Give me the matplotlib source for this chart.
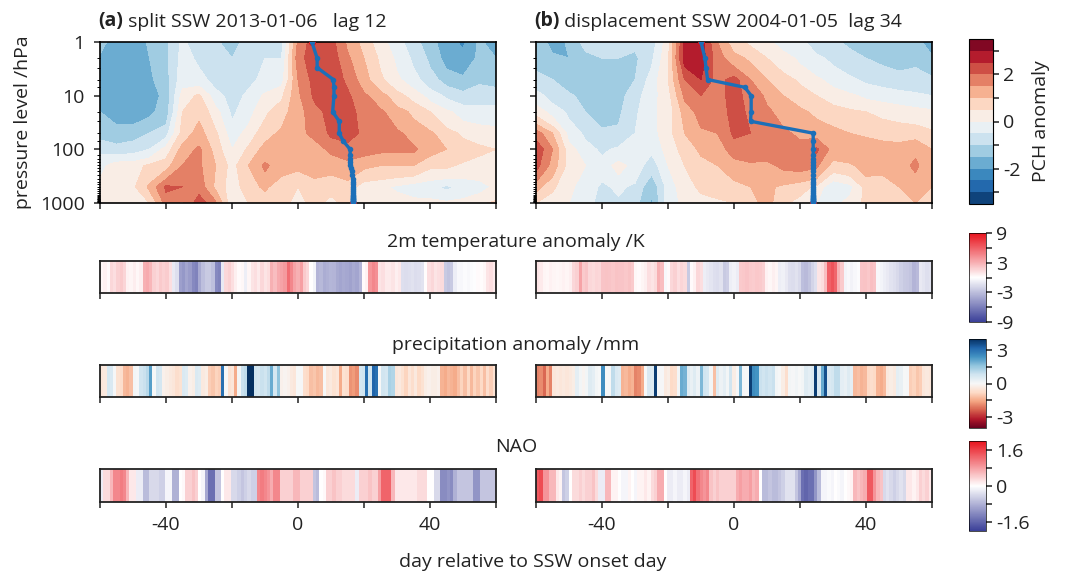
import numpy as np
import matplotlib
matplotlib.use('Agg')
import matplotlib.pyplot as plt
from matplotlib.colors import LinearSegmentedColormap, Normalize
from matplotlib.cm import ScalarMappable

plt.rcParams['font.family'] = ['Open Sans', 'DejaVu Sans']
FS = 14

# ---- data ----
grid_days = np.arange(-60, 61, 5)
grid_plev = [1, 2, 5, 10, 20, 50, 100, 200, 500, 1000]

# PCH anomaly, one row per day (-60..60 step 5), columns = grid_plev
pch_split = [
    [-1.3, -1.6, -1.8, -1.8, -1.5, -1.2, -0.6, -0.2, 0.2, 0.1],
    [-1.8, -1.8, -1.8, -1.8, -1.7, -1.3, -0.8, 0.3, 0.3, 0.2],
    [-1.9, -1.9, -1.9, -1.9, -1.8, -1.2, -0.7, 0.3, 0.4, 0.3],
    [-1.4, -1.5, -1.6, -1.8, -1.6, -1.0, -0.5, 0.6, 1.1, 0.5],
    [-1.1, -1.1, -1.2, -1.3, -1.3, -0.7, 0.2, 0.8, 2.1, 1.7],
    [-0.4, -0.3, -0.2, 0.2, 0.5, 0.7, 1.2, 1.5, 2.0, 1.4],
    [-0.8, -0.6, -0.3, 0.6, 0.9, 1.2, 1.6, 1.6, 1.8, 2.3],
    [-0.9, -0.8, -0.7, -0.3, 0.2, 0.6, 0.8, 1.0, 0.9, 1.6],
    [-1.3, -1.0, -0.9, -0.7, -0.6, -0.3, 0.0, 0.3, 0.2, 0.1],
    [-0.7, -0.7, -0.6, -0.4, -0.2, 0.2, 0.6, 1.0, 0.8, 0.5],
    [-0.6, -0.5, -0.4, 0.1, 0.4, 0.8, 1.2, 1.6, 1.1, 0.6],
    [-0.7, -0.5, -0.2, 0.4, 0.8, 1.1, 1.3, 1.2, 0.7, 0.6],
    [1.6, 1.8, 1.5, 1.4, 1.3, 1.4, 1.3, 1.1, 0.5, 0.4],
    [2.3, 2.3, 2.2, 2.1, 1.8, 1.6, 1.3, 1.2, 0.8, 0.6],
    [2.2, 2.3, 2.3, 2.3, 2.2, 2.1, 1.6, 1.2, 0.6, 0.4],
    [1.4, 1.6, 1.9, 2.1, 2.2, 2.2, 1.8, 1.3, 0.8, 0.6],
    [0.8, 1.0, 1.2, 1.6, 1.8, 1.9, 1.7, 1.1, 0.2, 0.2],
    [0.2, 0.4, 0.6, 1.2, 1.6, 1.7, 1.6, 1.0, 0.1, 0.3],
    [-0.3, -0.1, 0.1, 0.7, 1.2, 1.6, 1.6, 1.0, -0.1, 0.3],
    [-0.8, -0.6, -0.3, 0.3, 0.9, 1.3, 1.6, 1.0, -0.3, 0.2],
    [-1.3, -1.1, -0.8, -0.2, 0.5, 1.1, 1.2, 0.6, -0.4, 0.2],
    [-1.8, -1.7, -1.2, -0.6, 0.1, 0.7, 1.0, 0.6, -0.6, 0.1],
    [-2.1, -1.8, -1.4, -0.8, -0.2, 0.4, 0.8, 0.4, -0.4, 0.2],
    [-1.4, -1.4, -1.1, -0.7, -0.3, 0.3, 0.6, 0.3, -0.2, 0.4],
    [-1.8, -1.5, -1.2, -0.7, -0.3, 0.2, 0.5, 0.2, 0.1, 0.6],
]
pch_disp = [
    [-1.0, -1.2, -0.8, -0.3, 0.3, 1.8, 2.4, 2.2, 1.2, 0.5],
    [-1.8, -1.3, -1.0, -0.7, -0.2, 1.0, 1.5, 1.3, 0.6, 0.2],
    [-1.4, -1.5, -1.3, -0.9, -0.6, -0.2, 0.2, 0.3, 0.1, 0.0],
    [-0.8, -1.2, -1.4, -1.2, -1.0, -0.6, -0.3, 0.0, -0.2, -0.3],
    [-0.6, -1.0, -1.3, -1.4, -1.2, -0.9, -0.6, -0.3, -0.6, -0.7],
    [-0.7, -1.0, -1.2, -1.2, -1.1, -0.9, -0.4, 0.2, -0.4, -0.6],
    [-0.9, -1.1, -1.0, -0.7, -0.6, -0.5, -0.3, -0.2, -0.6, -0.8],
    [-0.8, -0.6, -0.3, -0.2, -0.1, -0.2, -0.4, -0.8, -1.4, -1.6],
    [0.3, 0.4, 0.5, 0.3, 0.2, 0.3, 0.2, 0.0, -0.3, -0.2],
    [2.6, 2.7, 2.0, 1.6, 1.2, 1.0, 0.7, 0.5, 0.3, 0.1],
    [2.7, 2.8, 2.5, 2.0, 1.7, 1.4, 1.1, 0.8, 0.6, 0.3],
    [1.5, 1.7, 1.8, 1.8, 1.7, 1.5, 1.3, 1.0, 0.7, 0.4],
    [0.7, 1.2, 2.2, 2.2, 2.2, 2.1, 1.7, 1.3, 0.8, 0.5],
    [0.4, 0.9, 1.5, 1.8, 1.9, 2.0, 1.8, 1.4, 1.0, 0.8],
    [0.1, 0.5, 1.0, 1.4, 1.6, 1.8, 1.7, 1.4, 1.1, 1.2],
    [-0.2, 0.2, 0.7, 1.0, 1.3, 1.6, 1.8, 1.6, 0.9, 0.6],
    [-0.4, -0.1, 0.4, 0.8, 1.1, 1.4, 1.7, 1.7, 0.7, 0.3],
    [-0.7, -0.4, 0.1, 0.5, 0.9, 1.3, 2.1, 1.6, 0.4, 0.0],
    [-0.9, -0.6, -0.2, 0.3, 0.7, 1.2, 1.3, 0.8, -0.5, -0.2],
    [-1.1, -0.8, -0.4, 0.1, 0.6, 1.0, 1.4, 0.9, -0.2, 0.2],
    [-1.2, -1.0, -0.6, -0.1, 0.5, 0.9, 1.4, 1.2, 0.7, 0.6],
    [-1.5, -1.1, -0.7, -0.2, 0.4, 0.8, 1.3, 1.1, 0.8, 0.7],
    [-1.3, -1.2, -0.8, -0.3, 0.3, 0.8, 1.2, 1.3, 1.0, 0.8],
    [-1.3, -1.1, -0.8, -0.4, 0.2, 0.8, 1.4, 1.6, 1.2, 1.0],
    [-1.8, -1.4, -0.9, -0.5, 0.1, 0.6, 1.0, 1.1, 1.0, 1.0],
]

# downward propagation path (day of max anomaly at each pressure level)
line_plev = [1, 2, 3, 5, 7, 10, 20, 30, 50, 70, 100, 125, 150, 175, 200, 225, 250,
             300, 350, 400, 450, 500, 550, 600, 650, 700, 750, 775, 800, 825, 850,
             875, 900, 925, 950, 975, 1000]
line_split = [4.2, 5.8, 5.8, 10.7, 10.9, 10.9, 10.5, 12.5, 12.5, 13.7, 15.8, 15.8,
              15.8, 15.8, 15.8, 16.0, 16.3, 16.5, 16.7, 16.7, 16.7, 16.7, 16.7, 16.7,
              16.7, 16.7, 16.7, 16.7, 16.7, 16.7, 16.7, 16.7, 16.7, 16.7, 16.7, 16.7, 16.7]
line_disp = [-10.0, -8.8, -8.5, -8.0, 3.3, 5.2, 5.2, 5.0, 24.0, 24.0, 24.0, 24.0,
             24.0, 24.0, 24.0, 24.0, 24.0, 24.0, 24.0, 24.0, 24.0, 24.0, 24.0, 24.0,
             24.0, 24.0, 24.0, 24.0, 24.0, 24.0, 24.0, 24.0, 24.0, 24.0, 24.0, 24.0, 24.0]

# daily series, day -60..60
t2m_split = [0.3, 0.5, 0.2, 1.5, 1.2, 1.8, 2.0, 1.6, 0.5, 0.4, 0.7, 0.3, 0.6, 3.0, 3.2,
             2.8, 1.8, 1.5, 2.0, 1.7, 1.9, 1.2, -1.0, -1.5, -4.5, -4.8, -4.2, -4.6, -5.5,
             -5.8, -4.0, -3.0, -2.5, -2.5, -3.0, -5.5, -5.8, -1.0, 1.5, 1.8, 1.2, 0.6,
             0.2, 0.3, -0.8, 0.4, 1.0, 1.2, 0.8, 1.5, 1.0, 1.3, 3.0, 2.5, 3.2, 3.5, 3.8,
             5.5, 4.5, 3.5, 3.0, 3.6, 2.0, 1.5, 0.0, -0.5, -3.5, -3.3, -3.8, -3.6, -3.4,
             -3.5, -4.0, -4.2, -4.0, -4.1, -4.3, -4.0, -4.2, -3.5, 0.2, 0.5, 4.0, 4.5,
             4.2, 1.0, 1.2, 0.8, 0.8, 1.0, 0.6, 0.9, -1.5, -1.6, -1.5, -1.4, -1.6, -1.5,
             -1.3, 0.1, 1.2, 1.5, 1.0, 1.2, 1.4, -2.5, -2.8, -2.5, -0.8, -0.3, -0.4,
             -0.2, -0.3, -0.2, -0.1, 0.2, 0.1, 0.3, 1.0, 1.2, 0.8]
t2m_disp = [1.0, 0.8, 0.4, 0.3, 0.5, 0.4, 0.3, 0.4, 0.5, 0.4, 0.6, 1.5, 1.8, 3.5, 2.0,
            2.2, 1.5, 1.4, 1.6, 1.5, 2.2, 2.3, 2.2, 2.1, 2.3, 2.2, 2.2, 2.1, 2.3, 2.0,
            0.3, 0.2, 0.4, 0.6, 1.2, 1.0, 1.4, 3.0, 2.5, -0.3, 0.2, 1.5, 1.8, 1.2, 1.6,
            1.4, -2.5, 0.2, 0.5, 1.5, 1.2, -0.8, -1.0, -1.2, -1.5, -1.6, -1.4, -2.5,
            -2.3, -0.8, -0.6, -0.9, 2.0, 2.1, 2.2, 2.0, 1.9, 2.1, 2.0, 1.8, 0.5, 0.3,
            0.6, 0.4, -0.8, -0.7, -1.0, -1.5, -1.6, -1.4, -1.7, -3.0, -3.2, -2.8, -2.0,
            -1.5, 1.0, 1.3, 2.5, 6.0, 6.5, 5.8, 3.0, 2.0, -0.5, -0.3, -0.6, -0.4, -0.2,
            2.2, 2.3, 2.1, 2.4, 2.2, -0.3, -0.5, -0.8, -1.0, -1.3, -1.5, -1.8, -2.2,
            -2.5, -2.6, -2.8, -3.5, -3.2, -1.0, -1.2, -1.5, -1.4]
precip_split = [-0.5, -0.4, 0.7, 0.6, 0.05, -0.6, -0.7, -1.3, -1.4, -1.2, 0.1, 0.05,
                0.8, 0.9, 1.1, 2.2, 0.0, 0.8, 0.7, -0.2, -0.3, -0.4, -0.5, -0.7, -0.6,
                0.6, 0.5, -0.2, -0.3, 0.6, 0.5, -0.4, -0.3, -1.0, -1.1, -0.9, -1.0, 3.0,
                0.0, -0.6, -0.5, -1.5, 0.1, 0.9, 1.0, 4.0, 4.0, 0.8, 0.7, 0.9, 0.8, 1.0,
                2.0, 0.7, 1.6, -0.2, -0.1, -0.2, -0.4, -0.5, 0.0, 0.05, -0.7, -0.8, -1.2,
                -1.1, -1.3, -1.2, 0.0, -0.5, -0.4, -0.6, -0.5, -1.5, -0.6, -0.7, -1.8,
                -1.7, -1.9, 0.7, 0.8, 3.0, 0.8, 3.2, 3.0, 0.0, 0.8, 0.7, 1.3, 1.2, -0.5,
                -0.4, -0.6, -0.9, -0.5, -0.7, -0.4, -0.8, -0.6, -0.3, -0.2, -0.3, -0.3,
                -0.2, -1.4, -1.5, -1.3, -1.4, -1.5, -1.2, -0.9, -1.2, -0.8, -1.3, -0.9,
                -1.1, -0.8, -1.2, -0.7, -1.0, -0.6]
precip_disp = [-2.0, -1.9, -2.3, -1.5, -2.0, -0.5, -0.4, -0.5, -0.4, -0.5, -0.4, -0.3,
               0.4, 0.1, -0.1, 0.1, 0.5, 0.4, 0.1, 0.0, 2.5, 0.0, 0.05, 1.0, 0.6, 0.5,
               -1.4, -1.3, -1.5, -1.4, -2.0, -1.9, -1.5, 0.0, 0.6, 0.5, 3.8, 0.0, 0.05,
               -0.4, -0.3, -0.8, -0.7, 0.1, 2.0, 1.9, 0.5, 0.3, 0.5, 0.2, 1.8, 0.8, 0.7,
               0.1, -1.2, 0.5, 0.2, 0.4, 0.1, 0.8, -0.3, 0.05, 1.8, 0.05, 0.0, 3.8, 2.5,
               2.4, 0.9, 0.8, 0.9, 0.8, 0.9, 0.1, 0.0, -0.3, -0.7, 0.1, 0.05, 0.15, 0.0,
               0.1, 0.5, 0.4, 0.5, 3.8, 0.6, 2.0, 3.5, 0.6, 0.7, 1.0, 1.0, 0.4, 0.3, 0.5,
               0.4, -1.3, -1.2, -1.4, -1.3, -0.8, -0.7, -0.8, -1.4, -1.5, -1.3, -0.4,
               -0.3, -0.4, 0.4, 0.3, 0.0, 0.05, -1.0, -0.9, -1.1, -1.0, -0.5, -0.4, -0.5]
nao_split = [-0.2, 0.3, 0.3, 0.6, 1.0, 1.0, 1.1, 1.0, 0.6, 0.2, 0.2, -0.2, -0.2, -0.7,
             -0.7, -0.4, -0.4, -0.4, -0.5, -0.5, -0.1, -0.1, -0.8, -0.8, 0.0, 0.05, 0.4,
             0.4, 0.5, 0.4, 0.0, -0.1, -0.9, -1.5, -1.5, -0.6, -0.6, 0.0, 0.2, 0.2, -0.4,
             -0.4, -0.5, -0.6, -0.5, -0.4, -0.5, -0.5, 1.0, 1.1, 1.0, 0.9, 0.7, 1.0,
             1.0, 0.4, 0.4, 0.4, 0.4, 0.6, 0.6, 0.4, 0.4, 0.4, 0.4, -0.6, -0.7, 0.0,
             0.05, 0.4, 0.4, 0.5, 0.4, 0.4, 0.3, 0.3, 0.3, 0.3, -0.2, 0.4, 0.4, 0.4, 0.5,
             0.4, 0.4, 0.8, 1.3, 1.3, 1.3, 0.6, 0.2, 0.2, 0.2, 0.2, 0.2, 0.2, 0.2, 0.3,
             0.3, 0.3, 0.0, 0.0, -0.4, -0.4, -1.2, -1.2, -1.1, -1.2, -0.8, -0.6, -0.6,
             -0.6, -0.6, -0.6, -1.1, -1.1, -0.6, -0.6, -0.6, -0.6, -0.6]
nao_disp = [1.4, 1.5, 0.9, 0.9, 0.6, 0.6, 0.2, 0.1, -0.6, -0.5, 0.0, 0.3, 0.3, 0.4, 0.3,
            0.4, 0.4, 0.5, 0.3, -0.2, -0.2, 0.6, 0.6, 0.1, 0.1, 0.0, -0.1, -0.1, 0.1,
            0.0, -0.1, 0.1, 0.1, 0.2, 0.1, 0.3, 0.4, 0.7, 0.7, 0.0, -0.2, -0.2, -0.1,
            -0.2, -0.2, -0.1, -0.2, 1.3, 1.5, 1.2, 1.0, 0.9, 1.0, 0.5, 0.4, 0.5, 0.4,
            0.4, 0.4, 0.4, 0.4, 0.7, 0.8, 0.7, 0.7, 0.8, 0.6, 0.7, 0.0, -0.7, -0.7,
            -0.6, -0.7, -0.7, -0.6, -0.5, -0.3, -0.3, -0.3, -0.6, -0.9, -1.5, -1.6,
            -1.5, -1.5, -1.1, -0.7, -0.1, -0.1, -0.05, -0.1, 0.0, -0.05, -0.1, 0.0,
            0.05, 0.1, 0.6, 0.5, 0.6, 0.7, 1.4, 1.4, 0.9, 0.6, 0.5, -0.4, -0.3, -0.4,
            -0.5, -0.4, -0.3, -0.4, 0.2, 0.2, 0.1, 0.2, 0.4, 0.3, 0.4, 0.2]

titles = [('(a)', ' split SSW 2013-01-06   lag 12'),
          ('(b)', ' displacement SSW 2004-01-05  lag 34')]
strip_titles = ['2m temperature anomaly /K', 'precipitation anomaly /mm', 'NAO']

# ---- figure ----
W, H = 1081, 575
fig = plt.figure(figsize=(W / 100, H / 100), dpi=100)


def px(x0, y0, x1, y1):
    return [x0 / W, 1 - y1 / H, (x1 - x0) / W, (y1 - y0) / H]


bwr_soft = LinearSegmentedColormap.from_list('bwr_soft', ['#3a3f98', '#ffffff', '#e8121c'])
levels = np.arange(-3.5, 3.51, 0.5)
line_col = '#1c6fb8'
txt_col = '#222222'

col_x = [(100, 496), (536, 932)]
fields = [pch_split, pch_disp]
lines = [line_split, line_disp]

cf = None
for i in range(2):
    ax = fig.add_axes(px(col_x[i][0], 42, col_x[i][1], 203))
    z = np.array(fields[i]).T
    cf = ax.contourf(grid_days, grid_plev, z, levels=levels, cmap='RdBu_r')
    ax.plot(lines[i][0], line_plev[0], 'o', color='red', ms=4, zorder=3, clip_on=True)
    ax.plot(lines[i][-1], line_plev[-1], 'o', color='red', ms=4, zorder=3, clip_on=True)
    ax.plot(lines[i], line_plev, '-o', color=line_col, lw=2.4, ms=3, zorder=4)
    ax.set_yscale('log')
    ax.set_ylim(1000, 1)
    ax.set_xlim(-60, 60)
    ax.set_yticks([1, 10, 100, 1000])
    ax.set_yticks(line_plev, minor=True)
    ax.set_xticks(np.arange(-60, 61, 20))
    ax.set_xticklabels([])
    ax.tick_params(which='major', direction='out', length=4, width=1.1,
                   labelsize=FS, pad=7, colors=txt_col)
    ax.tick_params(which='minor', direction='out', length=2, width=0.7)
    if i == 0:
        ax.set_yticklabels(['1', '10', '100', '1000'])
        ax.set_ylabel('pressure level /hPa', fontsize=FS, labelpad=6, color=txt_col)
    else:
        ax.set_yticklabels([])
    ax.yaxis.set_minor_formatter(plt.NullFormatter())
    for s in ax.spines.values():
        s.set_linewidth(1.2)
    lab = ax.text(-0.005, 1.07, titles[i][0], transform=ax.transAxes, fontsize=FS,
                  fontweight='bold', ha='left', va='bottom', color=txt_col)
    fig.canvas.draw()
    bb = lab.get_window_extent()
    x_after = ax.transAxes.inverted().transform((bb.x1, bb.y0))[0]
    ax.text(x_after, 1.07, titles[i][1], transform=ax.transAxes, fontsize=FS,
            ha='left', va='bottom', color=txt_col)

cax = fig.add_axes(px(969, 39, 993, 204))
cb = fig.colorbar(cf, cax=cax)
cb.set_ticks([-3, -2, -1, 0, 1, 2, 3])
cb.set_ticklabels(['', '-2', '', '0', '', '2', ''])
cb.ax.tick_params(direction='out', length=4, width=1.1, labelsize=FS, colors=txt_col)
cb.outline.set_linewidth(0.8)
cb.set_label('PCH anomaly', fontsize=FS, labelpad=8, color=txt_col)

strip_y = [(261, 293), (365, 397), (469, 502)]
strip_data = [(t2m_split, t2m_disp), (precip_split, precip_disp), (nao_split, nao_disp)]
strip_cmaps = [bwr_soft, 'RdBu', bwr_soft]
strip_lims = [9, 4, 2]
cbar_y = [(233, 322), (339, 428), (441, 531)]
cbar_ticks = [[-9, -6, -3, 0, 3, 6, 9], [-3, -1.5, 0, 1.5, 3], [-1.6, -0.8, 0, 0.8, 1.6]]
cbar_labels = [['-9', '', '-3', '', '3', '', '9'], ['-3', '', '0', '', '3'],
               ['-1.6', '', '0', '', '1.6']]
title_y = [242, 345, 447]
edges = np.linspace(-60, 60, 122)

for r in range(3):
    lim = strip_lims[r]
    for i in range(2):
        ax = fig.add_axes(px(col_x[i][0], strip_y[r][0], col_x[i][1], strip_y[r][1]))
        ax.pcolormesh(edges, [0, 1], np.array([strip_data[r][i]]), cmap=strip_cmaps[r],
                      vmin=-lim, vmax=lim, shading='flat')
        ax.set_xlim(-60, 60)
        ax.set_ylim(0, 1)
        ax.set_yticks([])
        ax.set_xticks(np.arange(-60, 61, 20))
        ax.tick_params(direction='out', length=4, width=1.1, labelsize=FS, pad=6,
                       colors=txt_col)
        if r == 2:
            ax.set_xticklabels(['', '-40', '', '0', '', '40', ''])
        else:
            ax.set_xticklabels([])
        for s in ax.spines.values():
            s.set_linewidth(1.3)
            s.set_color(txt_col)
    fig.text(516 / W, 1 - title_y[r] / H, strip_titles[r], fontsize=FS,
             ha='center', va='center', color=txt_col)
    cax = fig.add_axes(px(969, cbar_y[r][0], 986, cbar_y[r][1]))
    sm = ScalarMappable(norm=Normalize(-lim, lim), cmap=strip_cmaps[r])
    cb = fig.colorbar(sm, cax=cax)
    cb.set_ticks(cbar_ticks[r])
    cb.set_ticklabels(cbar_labels[r])
    cb.ax.tick_params(direction='out', length=4, width=1.1, labelsize=FS, colors=txt_col)
    cb.outline.set_linewidth(0.5)

fig.text(533 / W, 1 - 562 / H, 'day relative to SSW onset day', fontsize=FS,
         ha='center', va='center', color=txt_col)

fig.savefig('out.png', dpi=100)
